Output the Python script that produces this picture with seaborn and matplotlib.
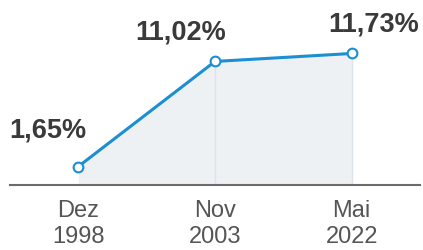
import matplotlib
matplotlib.use("Agg")
import matplotlib.pyplot as plt
import seaborn as sns
import pandas as pd

months = ["Dez", "Nov", "Mai"]
years = ["1998", "2003", "2022"]
values = [1.65, 11.02, 11.73]
value_labels = ["1,65%", "11,02%", "11,73%"]

sns.set_style("white")
plt.rcParams['font.family'] = ['Liberation Sans', 'DejaVu Sans']

df = pd.DataFrame({"pos": range(len(values)), "value": values})

fig = plt.figure(figsize=(4.23, 2.5), dpi=100)
ax = fig.add_axes([10 / 423, 65 / 250, 410 / 423, 185 / 250])

ax.fill_between(df["pos"], 0, df["value"], color="#eef1f4", zorder=1, linewidth=0)
for i in range(1, len(values)):
    ax.plot([i, i], [0, values[i]], color="#dde3ea", lw=1, zorder=1.5)

sns.lineplot(data=df, x="pos", y="value", ax=ax, color="#1b8fd2", lw=2.2,
             marker="o", markersize=7, markerfacecolor="white",
             markeredgecolor="#1b8fd2", markeredgewidth=1.5, zorder=3)

offsets = [(-0.22, 3.25), (-0.255, 2.6), (0.16, 2.6)]
for i, (lab, v) in enumerate(zip(value_labels, values)):
    dx, dy = offsets[i]
    ax.text(i + dx, v + dy, lab, ha="center", va="center", fontsize=19.5,
            fontweight="bold", color="#3a3a3a")

ax.set_xlim(-0.5, 2.5)
ax.set_ylim(0, 16.5)
ax.set_xticks(range(len(values)))
ax.set_xticklabels([f"{m}\n{y}" for m, y in zip(months, years)],
                   fontsize=17, color="#555555", linespacing=1.2)
ax.tick_params(axis="x", length=0, pad=11)
ax.set_yticks([])
ax.set_xlabel("")
ax.set_ylabel("")
for s in ["top", "right", "left"]:
    ax.spines[s].set_visible(False)
ax.spines["bottom"].set_color("#6b6b6b")
ax.spines["bottom"].set_linewidth(1.5)

fig.savefig("out.png", dpi=100)
